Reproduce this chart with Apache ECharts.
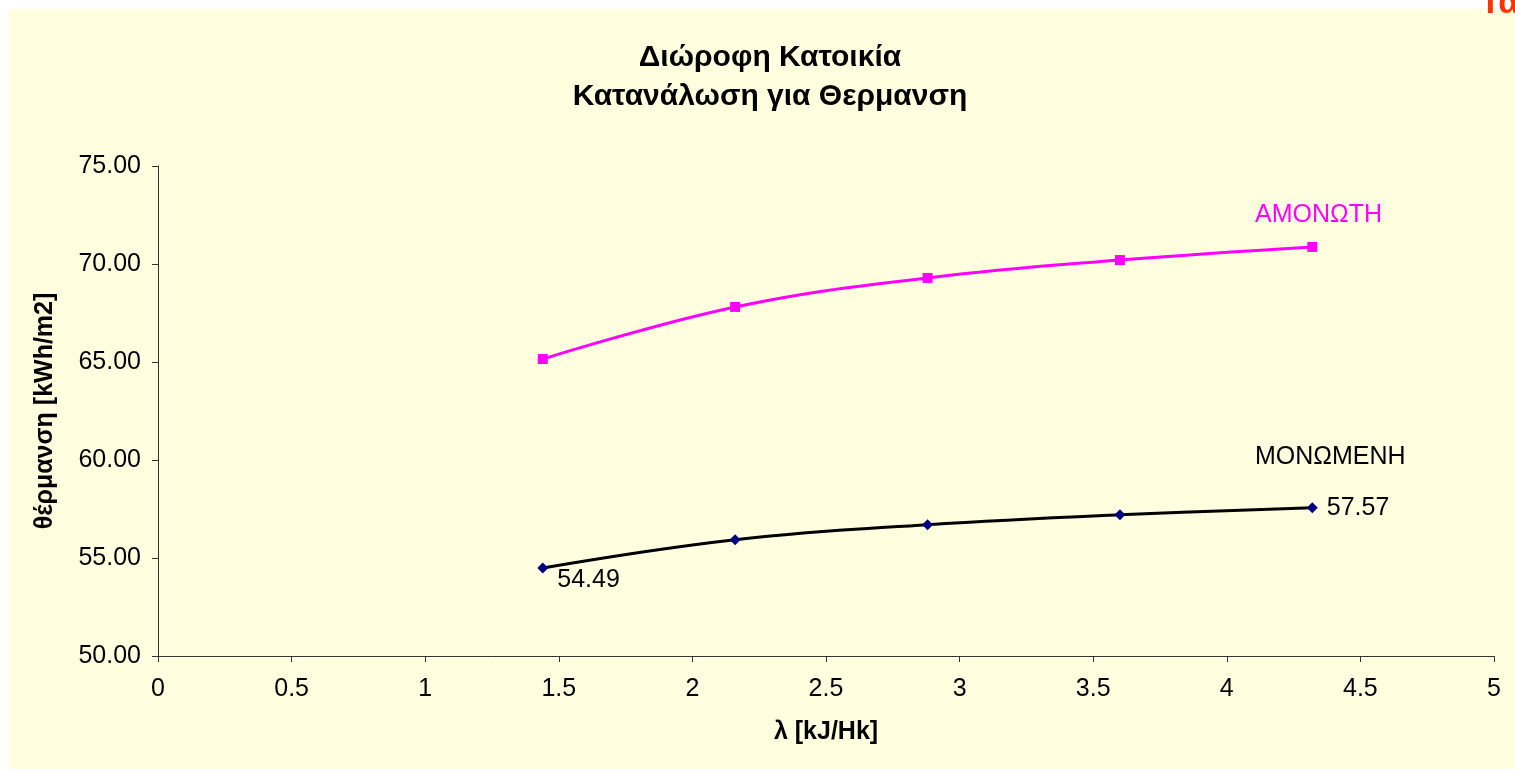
<!DOCTYPE html>
<html>
<head>
<meta charset="utf-8">
<title>Διώροφη Κατοικία</title>
<script src="https://cdn.jsdelivr.net/npm/echarts@6/dist/echarts.min.js"></script>
<style>
  html, body { margin: 0; padding: 0; background: #ffffff; }
  #chart { width: 1515px; height: 769px; }
</style>
</head>
<body>
<div id="chart"></div>
<script>
// λ values of the examined walls, kJ/Hk
const lambdaValues = [1.44, 2.16, 2.88, 3.60, 4.32];
// Heating consumption, kWh/m2
const uninsulated = [65.15, 67.81, 69.29, 70.20, 70.87];   // ΑΜΟΝΩΤΗ
const insulated   = [54.49, 55.93, 56.70, 57.21, 57.57];   // ΜΟΝΩΜΕΝΗ
const seriesNames = ['ΑΜΟΝΩΤΗ', 'ΜΟΝΩΜΕΝΗ'];
const yTicks = { min: 50, max: 75, step: 5 };
const xTicks = { min: 0, max: 5, step: 0.5 };

const FONT = '"Liberation Sans", Arial, sans-serif';

function pairs(values) {
  return values.map((v, i) => [lambdaValues[i], v]);
}

const valueLabel = (offset) => ({
  show: true, position: 'right', offset: offset,
  formatter: (d) => d.value[1].toFixed(2), color: '#000000',
  fontFamily: FONT, fontSize: 25
});

// Lower curve: values written at both ends
const lowerData = pairs(insulated).map((p, i) => {
  if (i === 0) return { value: p, label: valueLabel([4, 12]) };
  if (i === insulated.length - 1) return { value: p, label: valueLabel([4, 0]) };
  return { value: p };
});

const chart = echarts.init(document.getElementById('chart'), null, { renderer: 'canvas' });

chart.setOption({
  backgroundColor: '#ffffff',
  animation: false,
  graphic: [
    {
      type: 'rect', left: 9, top: 9, z: -10,
      shape: { width: 1506, height: 760 },
      style: { fill: '#FFFFE0' }
    },
    {
      type: 'text', x: 1480, y: 4, z: 10,
      style: {
        text: 'Τα', fill: '#FF3300',
        font: 'bold 34px ' + FONT,
        textVerticalAlign: 'middle', verticalAlign: 'middle'
      }
    },
    {
      type: 'text', x: 770, y: 58,
      style: {
        text: 'Διώροφη Κατοικία', fill: '#000000',
        font: 'bold 30px ' + FONT,
        textAlign: 'center', align: 'center',
        textVerticalAlign: 'middle', verticalAlign: 'middle'
      }
    },
    {
      type: 'text', x: 770, y: 97,
      style: {
        text: 'Κατανάλωση για Θερμανση', fill: '#000000',
        font: 'bold 30px ' + FONT,
        textAlign: 'center', align: 'center',
        textVerticalAlign: 'middle', verticalAlign: 'middle'
      }
    },
    {
      type: 'text', x: 1255, y: 215,
      style: {
        text: seriesNames[0], fill: '#FF00FF',
        font: '25px ' + FONT,
        textVerticalAlign: 'middle', verticalAlign: 'middle'
      }
    },
    {
      type: 'text', x: 1255, y: 457,
      style: {
        text: seriesNames[1], fill: '#000000',
        font: '25px ' + FONT,
        textVerticalAlign: 'middle', verticalAlign: 'middle'
      }
    }
  ],
  grid: { left: 158, right: 21, top: 166, bottom: 113, containLabel: false },
  xAxis: {
    type: 'value',
    min: xTicks.min, max: xTicks.max, interval: xTicks.step,
    name: 'λ [kJ/Hk]',
    nameLocation: 'middle', nameGap: 64,
    nameTextStyle: { fontFamily: FONT, fontSize: 25, fontWeight: 'bold', color: '#000' },
    axisLine: { show: true, lineStyle: { color: '#333', width: 1 } },
    axisTick: { show: true, length: 6, lineStyle: { color: '#333' } },
    axisLabel: { fontFamily: FONT, fontSize: 25, color: '#000', margin: 21 },
    splitLine: { show: false }
  },
  yAxis: {
    type: 'value',
    min: yTicks.min, max: yTicks.max, interval: yTicks.step,
    name: 'θέρμανση [kWh/m2]',
    nameLocation: 'middle', nameGap: 100,
    nameTextStyle: { fontFamily: FONT, fontSize: 25, fontWeight: 'bold', color: '#000' },
    axisLine: { show: true, lineStyle: { color: '#333', width: 1 } },
    axisTick: { show: true, length: 6, lineStyle: { color: '#333' } },
    axisLabel: {
      fontFamily: FONT, fontSize: 25, color: '#000', margin: 17,
      formatter: (v) => v.toFixed(2)
    },
    splitLine: { show: false }
  },
  series: [
    {
      name: seriesNames[0],
      type: 'line',
      data: pairs(uninsulated),
      smooth: 0.4,
      symbol: 'rect', symbolSize: 10,
      itemStyle: { color: '#FF00FF' },
      lineStyle: { color: '#FF00FF', width: 3 },
      z: 3
    },
    {
      name: seriesNames[1],
      type: 'line',
      data: lowerData,
      smooth: 0.4,
      symbol: 'diamond', symbolSize: 11,
      itemStyle: { color: '#000080' },
      lineStyle: { color: '#000000', width: 3 },
      z: 3
    }
  ]
});
</script>
</body>
</html>
